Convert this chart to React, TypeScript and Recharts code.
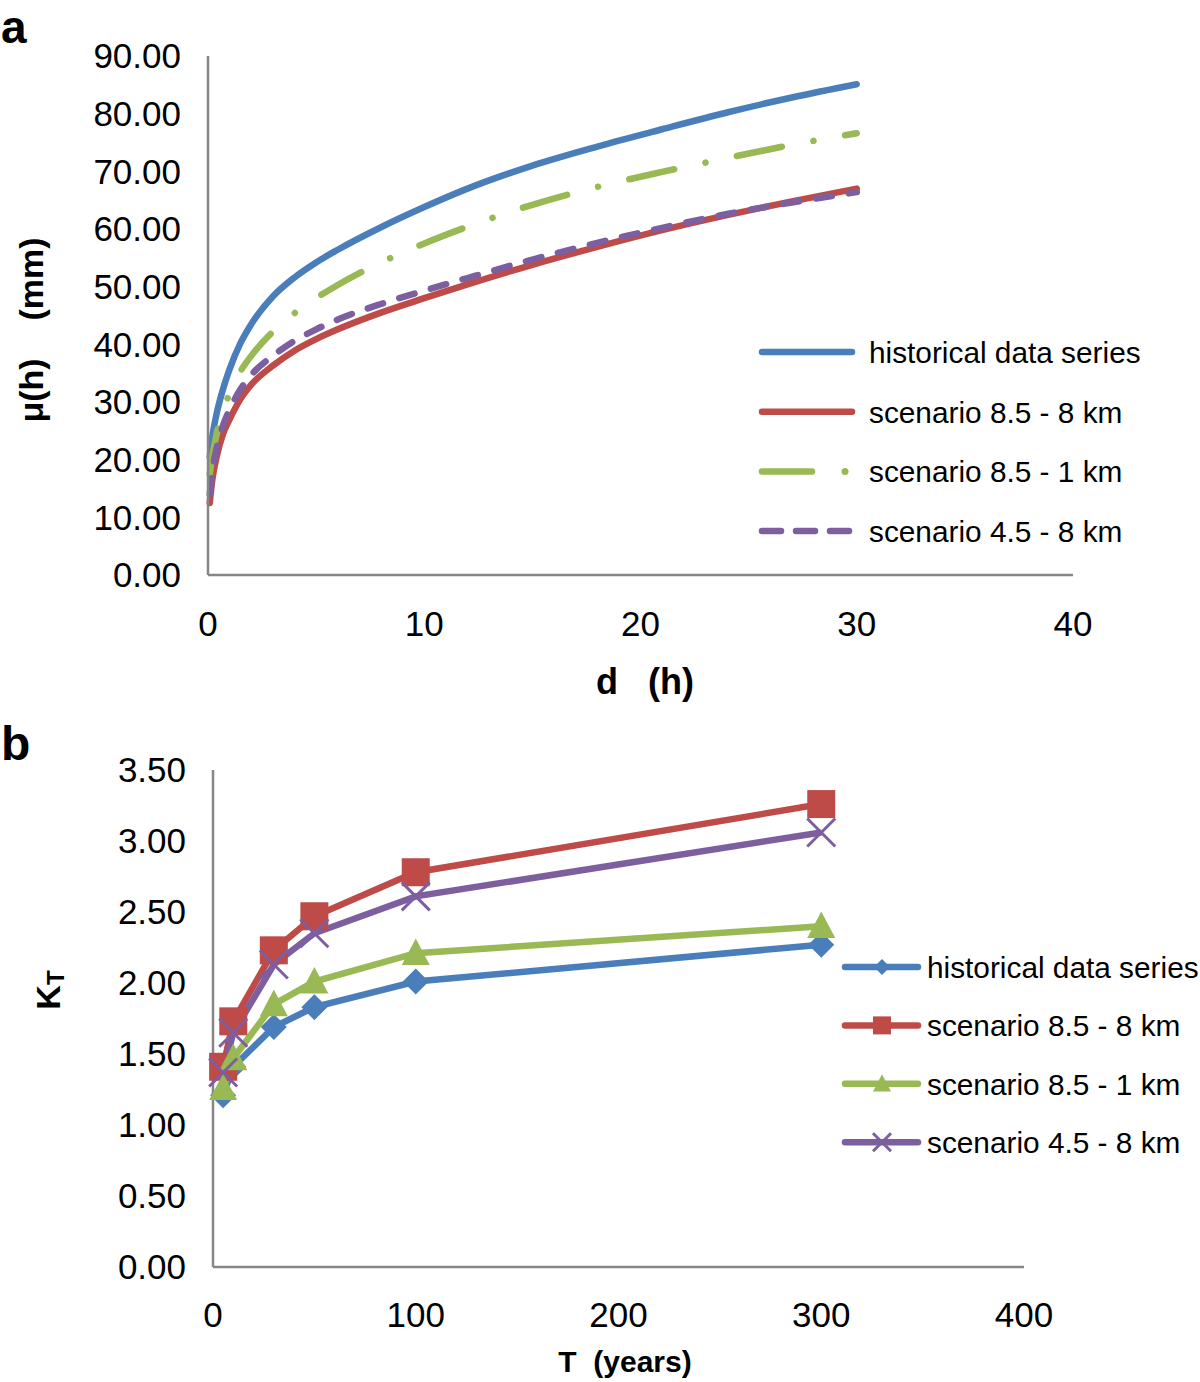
import { Label, Legend, Line, LineChart, XAxis, YAxis } from "recharts";

// panel a: mean annual maximum depth vs duration
const durations = [0.08, 0.2, 0.4, 0.7, 1, 1.5, 2, 3, 4, 5, 6, 8, 10, 12, 15, 18, 21, 24, 27, 30];
const muHistorical = [20.5, 24, 28, 32.3, 35.7, 40.2, 43.5, 48.3, 51.6, 54.2, 56.4, 60.3, 63.8, 67, 71, 74.3, 77.3, 80.2, 82.8, 85.1];
const muScen85_8 = [12.5, 16.5, 20.5, 24.5, 27, 30.5, 33, 36.3, 38.9, 40.9, 42.6, 45.5, 48, 50.4, 53.8, 56.9, 59.8, 62.4, 64.8, 67];
const muScen85_1 = [17.5, 20.5, 24.5, 28.5, 31.5, 35.3, 38, 42.2, 45.4, 48, 50.3, 54.2, 57.5, 60.4, 64.2, 67.3, 69.9, 72.3, 74.6, 76.6];
const muScen45_8 = [14, 18, 22, 26, 28.7, 32.2, 34.7, 38, 40.6, 42.6, 44.3, 47, 49.3, 51.5, 54.7, 57.6, 60.2, 62.6, 64.6, 66.4];

// panel b: growth factor vs return period
const returnPeriods = [5, 10, 30, 50, 100, 300];
const kHistorical = [1.21, 1.41, 1.69, 1.83, 2.01, 2.27];
const kScen85_8 = [1.41, 1.73, 2.23, 2.47, 2.78, 3.26];
const kScen85_1 = [1.26, 1.47, 1.85, 2.01, 2.21, 2.4];
const kScen45_8 = [1.37, 1.65, 2.13, 2.35, 2.61, 3.06];

const seriesNames = ["historical data series", "scenario 8.5 - 8 km", "scenario 8.5 - 1 km", "scenario 4.5 - 8 km"];
const colors = ["#4a7ebb", "#be4b48", "#98b954", "#7d5fa0"];

const font = '"Liberation Sans", Arial, Helvetica, sans-serif';
const axisGray = "#868686";

const muData = durations.map((d, i) => ({
  d,
  hist: muHistorical[i],
  s858: muScen85_8[i],
  s851: muScen85_1[i],
  s458: muScen45_8[i],
}));

const kData = returnPeriods.map((t, i) => ({
  t,
  hist: kHistorical[i],
  s858: kScen85_8[i],
  s851: kScen85_1[i],
  s458: kScen45_8[i],
}));

const dashes = [undefined, undefined, "46 32 0.1 32", "16 17"];

const LegendA = () => (
  <svg width={440} height={240}>
    {seriesNames.map((name, i) => {
      const y = 32 + i * 59.7;
      return (
        <g key={name}>
          {i === 2 ? (
            <>
              <line x1={15} x2={65} y1={y} y2={y} stroke={colors[i]} strokeWidth={6.5} strokeLinecap="round" />
              <circle cx={98} cy={y} r={3.5} fill={colors[i]} />
            </>
          ) : (
            <line
              x1={15}
              x2={105}
              y1={y}
              y2={y}
              stroke={colors[i]}
              strokeWidth={6.5}
              strokeLinecap="round"
              strokeDasharray={i === 3 ? "19 15" : undefined}
            />
          )}
          <text x={122} y={y + 11} fontSize={29.8} fontFamily={font} fill="#000">
            {name}
          </text>
        </g>
      );
    })}
  </svg>
);

const Marker = ({ kind, cx, cy, size, color }: { kind: number; cx: number; cy: number; size: number; color: string }) => {
  const h = size / 2;
  if (kind === 0) {
    return <polygon points={`${cx},${cy - h} ${cx + h},${cy} ${cx},${cy + h} ${cx - h},${cy}`} fill={color} />;
  }
  if (kind === 1) {
    return <rect x={cx - h} y={cy - h} width={size} height={size} fill={color} />;
  }
  if (kind === 2) {
    return <polygon points={`${cx},${cy - h * 1.05} ${cx + h},${cy + h * 0.85} ${cx - h},${cy + h * 0.85}`} fill={color} />;
  }
  return (
    <g stroke={color} strokeWidth={3}>
      <line x1={cx - h} y1={cy - h} x2={cx + h} y2={cy + h} />
      <line x1={cx - h} y1={cy + h} x2={cx + h} y2={cy - h} />
    </g>
  );
};

const dotFor = (kind: number) => (props: any) => {
  const { cx, cy, index } = props;
  return (
    <g key={`dot-${kind}-${index}`}>
      <Marker kind={kind} cx={cx} cy={cy} size={kind === 0 ? 26 : 28} color={colors[kind]} />
    </g>
  );
};

const LegendB = () => (
  <svg width={380} height={240}>
    {seriesNames.map((name, i) => {
      const y = 26 + i * 58.4;
      return (
        <g key={name}>
          <line x1={5} x2={78} y1={y} y2={y} stroke={colors[i]} strokeWidth={6.5} strokeLinecap="round" />
          <Marker kind={i} cx={42} cy={y} size={i === 0 ? 16 : 18} color={colors[i]} />
          <text x={87} y={y + 11} fontSize={29.8} fontFamily={font} fill="#000">
            {name}
          </text>
        </g>
      );
    })}
  </svg>
);

const tickStyle = { fill: "#000", fontSize: 35, fontFamily: font };

export default function App() {
  return (
    <div style={{ position: "absolute", left: 0, top: 0, width: 1200, height: 1382, background: "#fff" }}>
      <svg width={60} height={800} style={{ position: "absolute", left: 0, top: 0 }}>
        <text x={1} y={43} fontSize={46} fontWeight="bold" fontFamily={font}>
          a
        </text>
        <text x={1} y={760} fontSize={48} fontWeight="bold" fontFamily={font}>
          b
        </text>
      </svg>

      <div style={{ position: "absolute", left: 0, top: 0 }}>
        <LineChart width={1200} height={712} data={muData} margin={{ top: 56, right: 127, bottom: 77, left: 88 }}>
          <XAxis
            dataKey="d"
            type="number"
            domain={[0, 40]}
            ticks={[0, 10, 20, 30, 40]}
            interval={0}
            height={60}
            tickSize={0}
            tickMargin={36}
            tick={tickStyle}
            axisLine={{ stroke: axisGray, strokeWidth: 2.5 }}
          >
            <Label
              content={() => (
                <text x={645} y={694} textAnchor="middle" fontSize={36} fontWeight="bold" fontFamily={font} style={{ whiteSpace: "pre" }}>
                  {"d   (h)"}
                </text>
              )}
            />
          </XAxis>
          <YAxis
            type="number"
            domain={[0, 90]}
            ticks={[0, 10, 20, 30, 40, 50, 60, 70, 80, 90]}
            interval={0}
            width={120}
            tickSize={0}
            tickMargin={27}
            tick={tickStyle}
            tickFormatter={(v: number) => v.toFixed(2)}
            axisLine={{ stroke: axisGray, strokeWidth: 2.5 }}
          >
            <Label
              content={() => (
                <text
                  x={43}
                  y={330}
                  transform="rotate(-90 43 330)"
                  textAnchor="middle"
                  fontSize={34}
                  fontWeight="bold"
                  fontFamily={font}
                  style={{ whiteSpace: "pre" }}
                >
                  {"μ(h)    (mm)"}
                </text>
              )}
            />
          </YAxis>
          {["hist", "s858", "s851", "s458"].map((key, i) => (
            <Line
              key={key}
              dataKey={key}
              name={seriesNames[i]}
              type="monotone"
              stroke={colors[i]}
              strokeWidth={6.5}
              strokeLinecap="round"
              strokeDasharray={dashes[i]}
              dot={false}
              activeDot={false}
              isAnimationActive={false}
            />
          ))}
          <Legend
            layout="vertical"
            align="center"
            verticalAlign="middle"
            content={() => <LegendA />}
            wrapperStyle={{ left: 747, top: 320, width: 440, height: 240 }}
          />
        </LineChart>
      </div>

      <div style={{ position: "absolute", left: 0, top: 700 }}>
        <LineChart width={1200} height={682} data={kData} margin={{ top: 70, right: 176, bottom: 55, left: 93 }}>
          <XAxis
            dataKey="t"
            type="number"
            domain={[0, 400]}
            ticks={[0, 100, 200, 300, 400]}
            interval={0}
            height={60}
            tickSize={0}
            tickMargin={35}
            tick={tickStyle}
            axisLine={{ stroke: axisGray, strokeWidth: 2.5 }}
          >
            <Label
              content={() => (
                <text x={625} y={672} textAnchor="middle" fontSize={30} fontWeight="bold" fontFamily={font} style={{ whiteSpace: "pre" }}>
                  {"T  (years)"}
                </text>
              )}
            />
          </XAxis>
          <YAxis
            type="number"
            domain={[0, 3.5]}
            ticks={[0, 0.5, 1, 1.5, 2, 2.5, 3, 3.5]}
            interval={0}
            width={120}
            tickSize={0}
            tickMargin={27}
            tick={tickStyle}
            tickFormatter={(v: number) => v.toFixed(2)}
            axisLine={{ stroke: axisGray, strokeWidth: 2.5 }}
          >
            <Label
              content={() => (
                <text x={60} y={290} transform="rotate(-90 60 290)" textAnchor="middle" fontWeight="bold" fontFamily={font}>
                  <tspan fontSize={34}>K</tspan>
                  <tspan fontSize={24} dy={4}>
                    T
                  </tspan>
                </text>
              )}
            />
          </YAxis>
          {["hist", "s858", "s851", "s458"].map((key, i) => (
            <Line
              key={key}
              dataKey={key}
              name={seriesNames[i]}
              type="linear"
              stroke={colors[i]}
              strokeWidth={6.5}
              dot={dotFor(i)}
              activeDot={false}
              isAnimationActive={false}
            />
          ))}
          <Legend
            layout="vertical"
            align="center"
            verticalAlign="middle"
            content={() => <LegendB />}
            wrapperStyle={{ left: 840, top: 241, width: 380, height: 240 }}
          />
        </LineChart>
      </div>
    </div>
  );
}
